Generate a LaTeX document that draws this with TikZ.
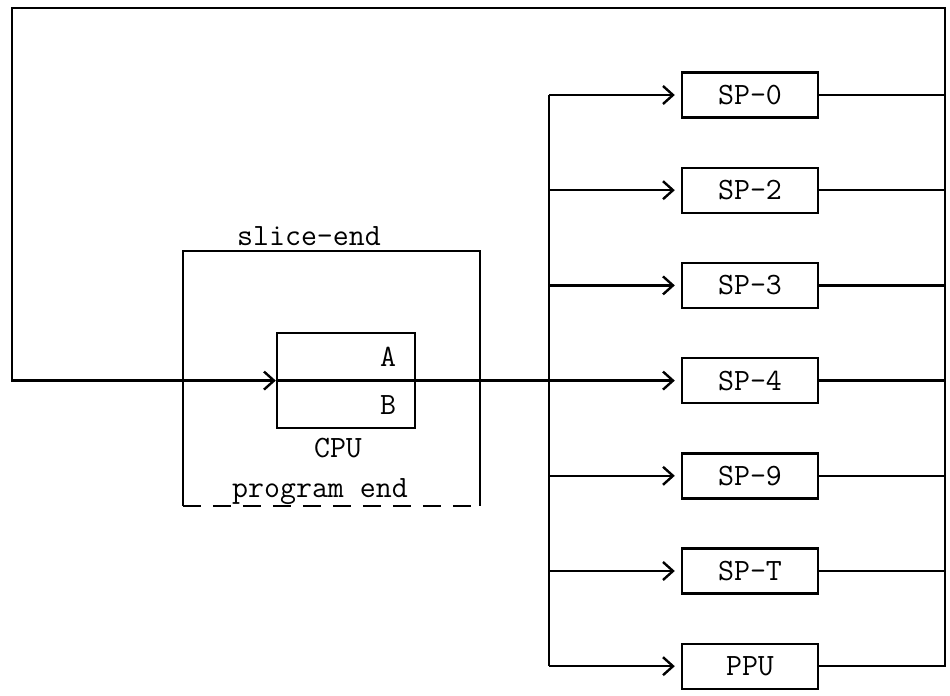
\documentclass[tikz,border=0pt]{standalone}
\usepackage{tikz}
\usetikzlibrary{arrows.meta, positioning, calc}

\begin{document}
\begin{tikzpicture}[x=0.5pt, y=-0.5pt, node distance=23.9pt and 2cm, line width=1.2pt,
    >={Straight Barb[length=5pt,width=9pt]},
    font=\ttfamily\fontsize{15.5}{18}\selectfont,
    spbox/.style={rectangle, draw, minimum width=68pt, minimum height=22.5pt}]
    \useasboundingbox (0,0) rectangle (950,696);

    % unit boxes on the right
    \node (sp0) [spbox] at (750,95) {SP-0};
    \node (sp2) [spbox, below=of sp0] {SP-2};
    \node (sp3) [spbox, below=of sp2] {SP-3};
    \node (sp4) [spbox, below=of sp3] {SP-4};
    \node (sp9) [spbox, below=of sp4] {SP-9};
    \node (spt) [spbox, below=of sp9] {SP-T};
    \node (ppu) [spbox, below=of spt] {PPU};

    % CPU with its frame
    \coordinate (cpux) at (346,0);
    \node (slice) [rectangle, minimum width=147.5pt, minimum height=126.5pt] at (331.5,378.5) {};
    \node (cpu) [rectangle, draw, minimum width=69pt, minimum height=47.5pt] at (cpux |- sp4) {};
    \node (a) at ($(cpu.center)+(42,-24)$) {A};
    \node (b) at ($(cpu.center)+(42,24)$) {B};
    \node (cpulab) at ($(cpu.center)+(-8,67)$) {CPU};
    \node (send) at (309,236) {slice-end};
    \node (pend) at (320,492) {program end};

    \draw (slice.south west) -- (slice.north west) -- (slice.north east) -- (slice.south east);
    \draw [dash pattern=on 9pt off 6pt] (slice.south west) -- (slice.south east);

    \coordinate (bus) at (549,0);
    \coordinate (rb) at (945,8);
    \coordinate (lb) at (12,8);

    \draw (sp0.west -| bus) -- (ppu.west -| bus);
    \draw [->, shorten >=3pt] (sp0.west -| bus) -- (sp0.west);
    \draw [->, shorten >=3pt] (sp2.west -| bus) -- (sp2.west);
    \draw [->, shorten >=3pt] (sp3.west -| bus) -- (sp3.west);
    \draw [->, shorten >=3pt] (sp9.west -| bus) -- (sp9.west);
    \draw [->, shorten >=3pt] (spt.west -| bus) -- (spt.west);
    \draw [->, shorten >=3pt] (ppu.west -| bus) -- (ppu.west);
    \draw [->, shorten >=3pt] (cpu.west) -- (sp4.west);

    \draw (sp0.east) -- (sp0.east -| rb);
    \draw (sp2.east) -- (sp2.east -| rb);
    \draw (sp3.east) -- (sp3.east -| rb);
    \draw (sp4.east) -- (sp4.east -| rb);
    \draw (sp9.east) -- (sp9.east -| rb);
    \draw (spt.east) -- (spt.east -| rb);
    \draw [->] (ppu.east) -| (rb) -- (lb) |- (cpu.west);
\end{tikzpicture}
\end{document}
